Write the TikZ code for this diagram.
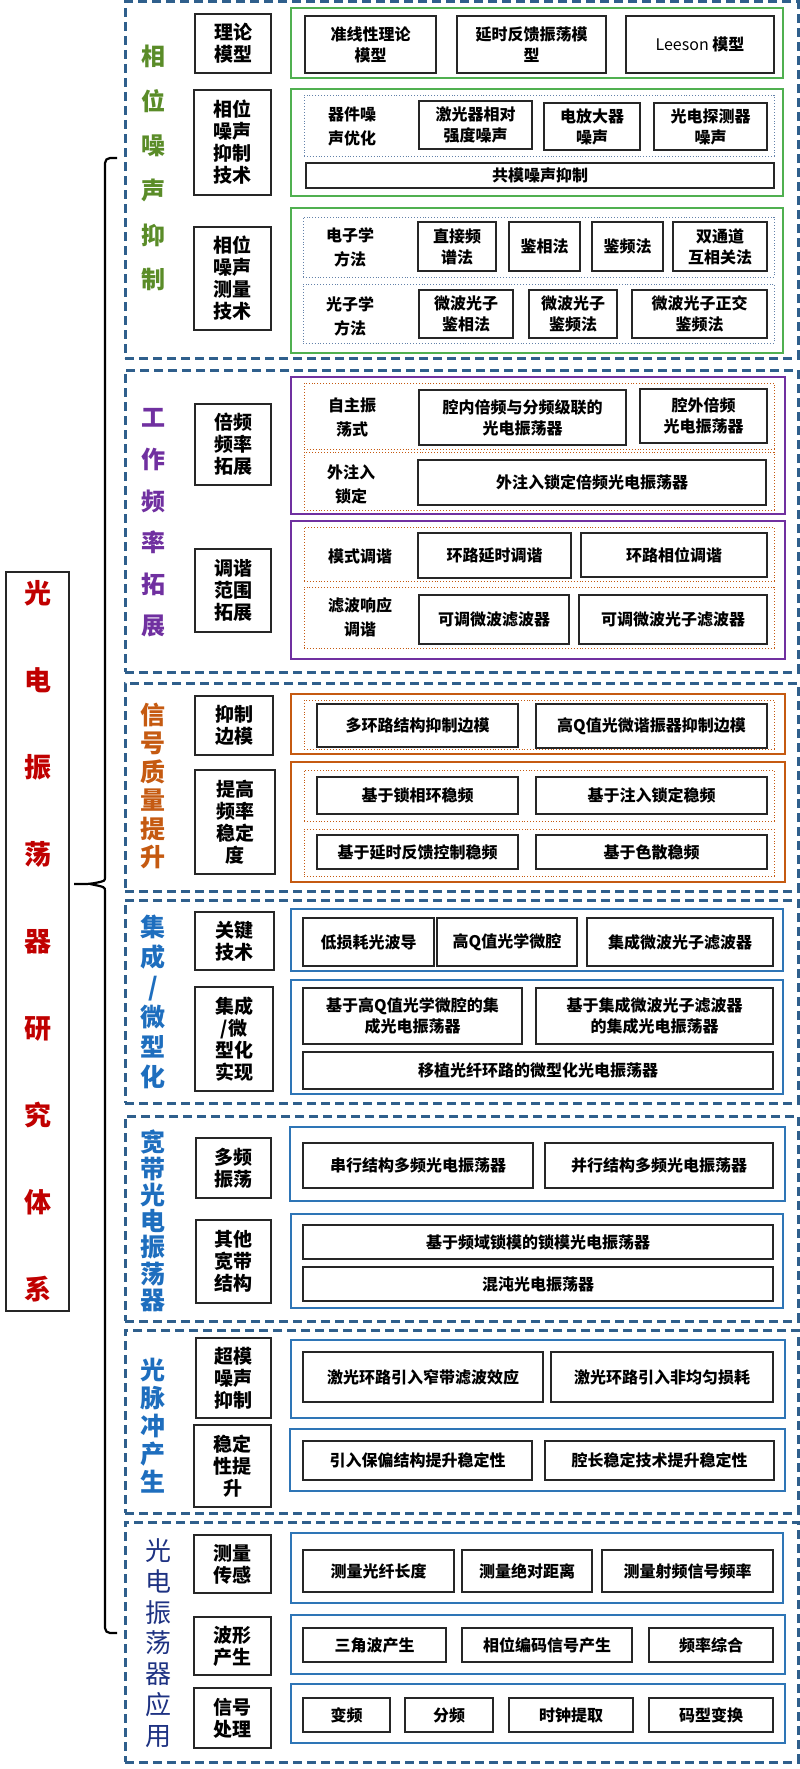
\documentclass[tikz,border=0pt]{standalone}
\usepackage{fontspec}
\setmainfont{Noto Sans CJK SC}
\definecolor{gfr}{RGB}{80,176,80}
\definecolor{glab}{RGB}{90,140,40}
\definecolor{pur}{RGB}{112,48,160}
\definecolor{org}{RGB}{197,90,17}
\definecolor{bfr}{RGB}{46,117,182}
\definecolor{dsh}{RGB}{47,95,140}
\definecolor{blab}{RGB}{30,110,190}
\definecolor{alab}{RGB}{30,50,130}
\definecolor{mred}{RGB}{192,0,0}
\definecolor{dgr}{RGB}{100,130,170}
\newcommand\bx[7]{\node[#1, minimum width={#5-#3}, minimum height={#6-#4}] (#2) at ({(#3+#5)/2},{(#4+#6)/2}) {#7};}
\tikzset{
 base/.style={rectangle, inner sep=0pt, outer sep=0pt, align=center},
 itm/.style={base, draw=black!85, line width=1.4pt, font=\bfseries\fontsize{16}{21}\selectfont},
 cat/.style={base, draw=black!85, line width=1.4pt, font=\bfseries\fontsize{19}{22}\selectfont},
 sec/.style={base, draw=dsh, line width=3pt, dash pattern=on 9pt off 5pt},
 gfrm/.style={base, draw=gfr, line width=2.6pt},
 pfrm/.style={base, draw=pur, line width=2.6pt},
 ofrm/.style={base, draw=org, line width=2.6pt},
 bfrm/.style={base, draw=bfr, line width=2.6pt},
 gdot/.style={base, draw=dgr, line width=0.9pt, dotted},
 odot/.style={base, draw=org, line width=0.9pt, dotted},
 txt/.style={base, font=\bfseries\fontsize{16}{24}\selectfont},
 vlab/.style 2 args={base, font=\bfseries\fontsize{#1}{#2}\selectfont},
}
\begin{document}
\begin{tikzpicture}[x=1pt,y=-1pt]
\useasboundingbox (0,0) rectangle (800,1769);
% main title
\bx{base,draw=black!85,line width=1.4pt,text=mred,font=\bfseries\fontsize{27}{87}\selectfont}{main}{6}{572}{69}{1311}{光\\电\\振\\荡\\器\\研\\究\\体\\系}
% brace
\coordinate (bt) at (117,158); \coordinate (bb) at (117,1633); \coordinate (bm) at (74,884);
\draw[line width=2.2pt, rounded corners=5pt] (bt) -- (105,158) -- (105,872) .. controls (105,881) .. (90,884) -- (bm);
\draw[line width=2.2pt, rounded corners=5pt] (bb) -- (105,1633) -- (105,896) .. controls (105,887) .. (90,884);

% ===== Section 1
\bx{sec}{s1}{125}{2}{798}{358}{}
\node[vlab={24}{44.6}, text=glab] (l1) at (153,168) {相\\位\\噪\\声\\抑\\制};
\bx{cat}{c11}{195}{14}{271}{73}{理论\\模型}
\bx{gfrm}{f11}{291}{8}{783}{78}{}
\bx{itm}{i111}{305}{16}{436}{73}{准线性理论\\模型}
\bx{itm}{i112}{457}{16}{606}{73}{延时反馈振荡模\\型}
\bx{itm}{i113}{626}{16}{774}{73}{\mdseries Leeson \bfseries 模型}
\bx{cat}{c12}{194}{90}{271}{195}{相位\\噪声\\抑制\\技术}
\bx{gfrm}{f12}{291}{89}{783}{196}{}
\bx{gdot}{d121}{304}{95}{774}{156}{}
\node[txt] (t121) at (352,126) {器件噪\\声优化};
\bx{itm}{i121}{419}{101}{532}{149}{激光器相对\\强度噪声}
\bx{itm}{i122}{544}{103}{640}{150}{电放大器\\噪声}
\bx{itm}{i123}{654}{103}{767}{150}{光电探测器\\噪声}
\bx{itm}{i124}{306}{163}{774}{188}{共模噪声抑制}
\bx{cat}{c13}{194}{227}{271}{330}{相位\\噪声\\测量\\技术}
\bx{gfrm}{f13}{291}{208}{783}{353}{}
\bx{gdot}{d131}{303}{217}{774}{277}{}
\node[txt] (t131) at (350,247) {电子学\\方法};
\bx{itm}{i131}{418}{222}{496}{271}{直接频\\谱法}
\bx{itm}{i132}{509}{222}{580}{271}{鉴相法}
\bx{itm}{i133}{592}{222}{663}{271}{鉴频法}
\bx{itm}{i134}{673}{222}{767}{271}{双通道\\互相关法}
\bx{gdot}{d132}{303}{284}{774}{343}{}
\node[txt] (t132) at (350,316) {光子学\\方法};
\bx{itm}{i135}{419}{290}{513}{338}{微波光子\\鉴相法}
\bx{itm}{i136}{529}{290}{617}{338}{微波光子\\鉴频法}
\bx{itm}{i137}{632}{290}{767}{338}{微波光子正交\\鉴频法}

% ===== Section 2
\bx{sec}{s2}{125}{370}{798}{672}{}
\node[vlab={24}{41.6}, text=pur] (l2) at (153,523) {工\\作\\频\\率\\拓\\展};
\bx{cat}{c21}{195}{404}{271}{485}{倍频\\频率\\拓展}
\bx{pfrm}{f21}{291}{377}{785}{514}{}
\bx{odot}{d211}{304}{383}{774}{449}{}
\node[txt] (t211) at (352,417) {自主振\\荡式};
\bx{itm}{i211}{419}{390}{626}{445}{腔内倍频与分频级联的\\光电振荡器}
\bx{itm}{i212}{640}{389}{767}{443}{腔外倍频\\光电振荡器}
\bx{odot}{d212}{304}{452}{774}{510}{}
\node[txt] (t212) at (351,484) {外注入\\锁定};
\bx{itm}{i213}{418}{460}{766}{505}{外注入锁定倍频光电振荡器}
\bx{cat}{c22}{195}{549}{271}{632}{调谐\\范围\\拓展}
\bx{pfrm}{f22}{291}{521}{785}{659}{}
\bx{odot}{d221}{304}{527}{774}{581}{}
\node[txt] (t221) at (360,556) {模式调谐};
\bx{itm}{i221}{418}{533}{571}{578}{环路延时调谐}
\bx{itm}{i222}{581}{533}{767}{577}{环路相位调谐}
\bx{odot}{d222}{304}{587}{774}{648}{}
\node[txt] (t222) at (360,617) {滤波响应\\调谐};
\bx{itm}{i223}{419}{595}{569}{644}{可调微波滤波器}
\bx{itm}{i224}{579}{595}{767}{644}{可调微波光子滤波器}

% ===== Section 3
\bx{sec}{s3}{125}{683}{798}{891}{}
\node[vlab={25}{28.4}, text=org] (l3) at (153,786) {信\\号\\质\\量\\提\\升};
\bx{cat}{c31}{195}{696}{273}{755}{抑制\\边模}
\bx{ofrm}{f31}{291}{694}{785}{754}{}
\bx{odot}{d311}{304}{700}{774}{749}{}
\bx{itm}{i311}{317}{704}{518}{747}{多环路结构抑制边模}
\bx{itm}{i312}{536}{704}{767}{748}{高Q值光微谐振器抑制边模}
\bx{cat}{c32}{195}{770}{275}{874}{提高\\频率\\稳定\\度}
\bx{ofrm}{f32}{291}{762}{785}{882}{}
\bx{odot}{d321}{304}{770}{774}{821}{}
\bx{itm}{i321}{317}{777}{518}{814}{基于锁相环稳频}
\bx{itm}{i322}{536}{777}{767}{814}{基于注入锁定稳频}
\bx{odot}{d322}{304}{829}{774}{876}{}
\bx{itm}{i323}{317}{835}{518}{869}{基于延时反馈控制稳频}
\bx{itm}{i324}{536}{835}{767}{869}{基于色散稳频}

% ===== Section 4
\bx{sec}{s4}{125}{900}{798}{1103}{}
\node[vlab={25}{30}, text=blab] (l4) at (153,1002) {集\\成\\/\\微\\型\\化};
\bx{cat}{c41}{195}{912}{274}{970}{关键\\技术}
\bx{bfrm}{f41}{291}{909}{783}{971}{}
\bx{itm}{i411}{303}{918}{434}{966}{低损耗光波导}
\bx{itm}{i412}{437}{918}{577}{966}{高Q值光学微腔}
\bx{itm}{i413}{587}{918}{773}{966}{集成微波光子滤波器}
\bx{cat}{c42}{195}{987}{273}{1091}{集成\\/微\\型化\\实现}
\bx{bfrm}{f42}{291}{980}{783}{1094}{}
\bx{itm}{i421}{303}{988}{522}{1044}{基于高Q值光学微腔的集\\成光电振荡器}
\bx{itm}{i422}{536}{988}{773}{1044}{基于集成微波光子滤波器\\的集成光电振荡器}
\bx{itm}{i423}{303}{1052}{773}{1089}{移植光纤环路的微型化光电振荡器}

% ===== Section 5
\bx{sec}{s5}{125}{1116}{798}{1321}{}
\node[vlab={25}{26.3}, text=blab] (l5) at (153,1221) {宽\\带\\光\\电\\振\\荡\\器};
\bx{cat}{c51}{196}{1138}{271}{1198}{多频\\振荡}
\bx{bfrm}{f51}{290}{1127}{785}{1201}{}
\bx{itm}{i511}{303}{1143}{533}{1188}{串行结构多频光电振荡器}
\bx{itm}{i512}{545}{1143}{773}{1188}{并行结构多频光电振荡器}
\bx{cat}{c52}{196}{1220}{271}{1303}{其他\\宽带\\结构}
\bx{bfrm}{f52}{291}{1214}{783}{1308}{}
\bx{itm}{i521}{303}{1225}{773}{1259}{基于频域锁模的锁模光电振荡器}
\bx{itm}{i522}{303}{1267}{773}{1301}{混沌光电振荡器}

% ===== Section 6
\bx{sec}{s6}{125}{1330}{798}{1513}{}
\node[vlab={25}{28}, text=blab] (l6) at (153,1426) {光\\脉\\冲\\产\\生};
\bx{cat}{c61}{196}{1338}{271}{1418}{超模\\噪声\\抑制}
\bx{bfrm}{f61}{291}{1340}{785}{1418}{}
\bx{itm}{i611}{303}{1352}{543}{1402}{激光环路引入窄带滤波效应}
\bx{itm}{i612}{551}{1352}{773}{1402}{激光环路引入非均匀损耗}
\bx{cat}{c62}{194}{1425}{271}{1507}{稳定\\性提\\升}
\bx{bfrm}{f62}{290}{1429}{785}{1491}{}
\bx{itm}{i621}{303}{1441}{532}{1480}{引入保偏结构提升稳定性}
\bx{itm}{i622}{545}{1441}{774}{1480}{腔长稳定技术提升稳定性}

% ===== Section 7
\bx{sec}{s7}{125}{1522}{798}{1762}{}
\node[base, text=alab, font=\fontsize{26}{30.8}\selectfont] (l7) at (158,1643) {光\\电\\振\\荡\\器\\应\\用};
\bx{cat}{c71}{194}{1535}{271}{1593}{测量\\传感}
\bx{bfrm}{f71}{291}{1533}{783}{1603}{}
\bx{itm}{i711}{303}{1550}{454}{1592}{测量光纤长度}
\bx{itm}{i712}{462}{1550}{592}{1592}{测量绝对距离}
\bx{itm}{i713}{602}{1550}{773}{1592}{测量射频信号频率}
\bx{cat}{c72}{194}{1617}{271}{1675}{波形\\产生}
\bx{bfrm}{f72}{291}{1615}{785}{1674}{}
\bx{itm}{i721}{303}{1628}{446}{1662}{三角波产生}
\bx{itm}{i722}{462}{1628}{632}{1662}{相位编码信号产生}
\bx{itm}{i723}{649}{1628}{773}{1662}{频率综合}
\bx{cat}{c73}{194}{1688}{271}{1748}{信号\\处理}
\bx{bfrm}{f73}{291}{1684}{785}{1743}{}
\bx{itm}{i731}{303}{1698}{390}{1732}{变频}
\bx{itm}{i732}{405}{1698}{493}{1732}{分频}
\bx{itm}{i733}{509}{1698}{633}{1732}{时钟提取}
\bx{itm}{i734}{649}{1698}{773}{1732}{码型变换}
\end{tikzpicture}
\end{document}
